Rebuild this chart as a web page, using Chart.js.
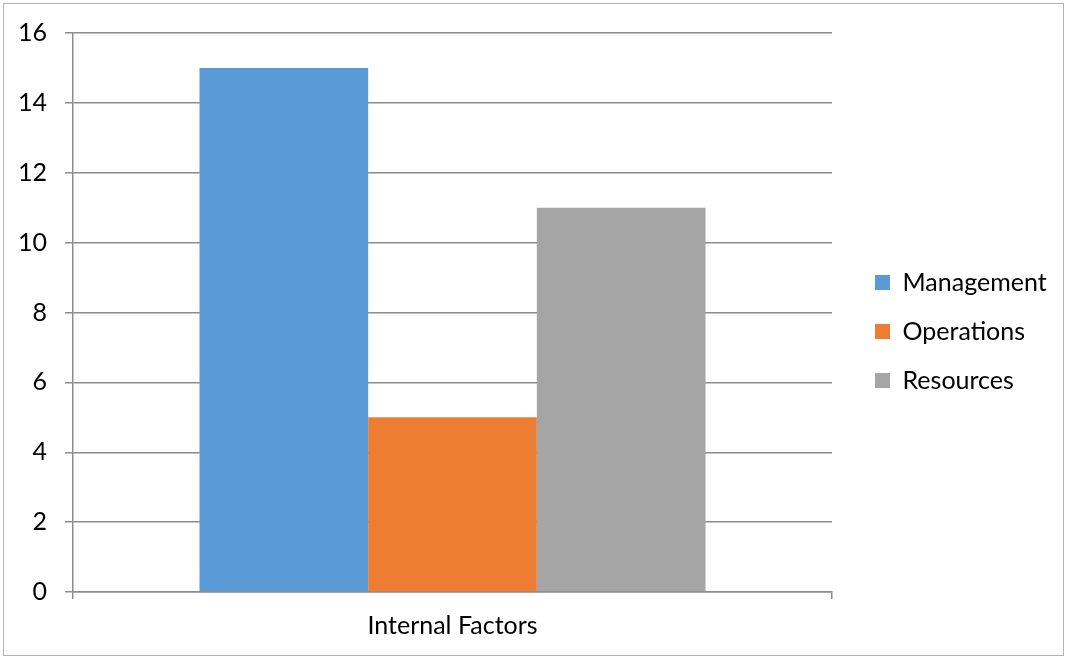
<!DOCTYPE html>
<html>
<head>
<meta charset="utf-8">
<script src="https://cdn.jsdelivr.net/npm/chart.js@4.4.1/dist/chart.umd.min.js"></script>
<style>
    html, body { margin: 0; padding: 0; background: #ffffff; }
    #wrap { position: relative; width: 1066px; height: 659px; }
    #frame {
        position: absolute; left: 3px; top: 3px; width: 1059px; height: 651px;
        border: 1px solid #b3b3b3; pointer-events: none;
    }
    #chart { position: absolute; left: 0; top: 0; }
</style>
</head>
<body>
<div id="wrap">
    <canvas id="chart" width="1066" height="659"></canvas>
    <div id="frame"></div>
</div>
<script>
const categories = ['Internal Factors'];
const seriesNames = ['Management', 'Operations', 'Resources'];
const managementValues = [15];
const operationsValues = [5];
const resourcesValues = [11];
const yTicks = [0, 2, 4, 6, 8, 10, 12, 14, 16];

const seriesColors = ['#5B9BD5', '#ED7D31', '#A5A5A5'];
const gridColor = '#8c8c8c';
const textColor = '#000000';
const fontFamily = 'Lato, "Liberation Sans", sans-serif';
const fontSize = 25;

document.addEventListener('DOMContentLoaded', () => {
    if (typeof Chart === 'undefined') {
        console.error('Chart.js not loaded!');
        return;
    }

    const ctx = document.getElementById('chart').getContext('2d');
    const values = [managementValues, operationsValues, resourcesValues];

    new Chart(ctx, {
        type: 'bar',
        data: {
            labels: categories,
            datasets: seriesNames.map((name, i) => ({
                label: name,
                data: values[i],
                backgroundColor: seriesColors[i],
                borderWidth: 0,
                categoryPercentage: 0.6667,
                barPercentage: 1.0
            }))
        },
        options: {
            responsive: false,
            animation: false,
            layout: {
                padding: { left: 0, right: 13, top: 10, bottom: 6 }
            },
            plugins: {
                tooltip: { enabled: false },
                legend: {
                    position: 'right',
                    maxWidth: 202,
                    labels: {
                        boxWidth: 15,
                        boxHeight: 15,
                        padding: 24,
                        color: textColor,
                        font: { family: fontFamily, size: fontSize }
                    }
                }
            },
            scales: {
                x: {
                    offset: true,
                    grid: {
                        offset: true,
                        drawOnChartArea: false,
                        drawTicks: true,
                        tickLength: 7,
                        color: gridColor,
                        lineWidth: 1.5
                    },
                    border: { display: true, color: gridColor, width: 1.5 },
                    ticks: {
                        color: textColor,
                        padding: 12,
                        font: { family: fontFamily, size: fontSize }
                    }
                },
                y: {
                    min: 0,
                    max: 16,
                    afterBuildTicks: (scale) => {
                        scale.ticks = yTicks.map(v => ({ value: v }));
                    },
                    grid: {
                        color: gridColor,
                        lineWidth: 1.5,
                        drawTicks: true,
                        tickLength: 8
                    },
                    border: { display: true, color: gridColor, width: 1.5 },
                    ticks: {
                        color: textColor,
                        padding: 18,
                        font: { family: fontFamily, size: fontSize }
                    }
                },
                // empty axes, they only keep space around the plot
                spacerRight: {
                    type: 'linear',
                    position: 'right',
                    grid: { display: false },
                    border: { display: false },
                    ticks: { display: false },
                    afterFit: (scale) => { scale.width = 19; }
                },
                spacerTop: {
                    type: 'linear',
                    position: 'top',
                    grid: { display: false },
                    border: { display: false },
                    ticks: { display: false },
                    afterFit: (scale) => { scale.height = 23; }
                }
            }
        }
    });
});
</script>
</body>
</html>
